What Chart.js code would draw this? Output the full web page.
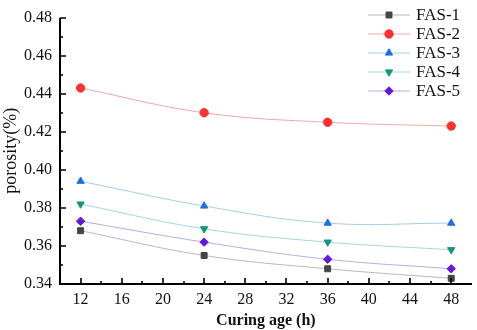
<!DOCTYPE html>
<html>
<head>
<meta charset="utf-8">
<script src="https://cdn.jsdelivr.net/npm/chart.js@4"></script>
<style>
  html, body { margin: 0; padding: 0; background: #fff; }
  #chart { display: block; }
</style>
</head>
<body>
<canvas id="chart" width="477" height="330"></canvas>
<script>
// data
const ages = [12, 24, 36, 48];
const fas1 = [0.368, 0.355, 0.348, 0.343];
const fas2 = [0.443, 0.430, 0.425, 0.423];
const fas3 = [0.394, 0.381, 0.372, 0.372];
const fas4 = [0.382, 0.369, 0.362, 0.358];
const fas5 = [0.373, 0.362, 0.353, 0.348];
const xTicks = [12, 16, 20, 24, 28, 32, 36, 40, 44, 48];
const yTicks = [0.34, 0.36, 0.38, 0.40, 0.42, 0.44, 0.46, 0.48];

const serif = '"Liberation Serif", "DejaVu Serif", serif';

function pts(vals) {
  return ages.map((a, i) => ({ x: a, y: vals[i] }));
}

function series(label, vals, line, mark, style, rot) {
  return {
    label: label,
    data: pts(vals),
    borderColor: line,
    borderWidth: 1,
    backgroundColor: mark,
    pointBackgroundColor: mark,
    pointBorderColor: mark,
    pointStyle: style,
    rotation: rot || 0,
    pointRadius: 4.2,
    tension: 0.4,
    fill: false
  };
}

// inside ticks + axis lines, like the origin plot
const insideTicks = {
  id: 'insideTicks',
  afterDraw(chart) {
    const ctx = chart.ctx;
    const xs = chart.scales.x, ys = chart.scales.y;
    const a = chart.chartArea;
    const L = Math.round(a.left), B = Math.round(a.bottom);
    ctx.save();
    ctx.strokeStyle = '#000';
    ctx.lineWidth = 2;
    ctx.beginPath();
    ctx.moveTo(L, Math.round(a.top));
    ctx.lineTo(L, B);
    ctx.lineTo(Math.round(a.right), B);
    ctx.stroke();
    ctx.lineWidth = 1.6;
    ctx.beginPath();
    for (let v = 12; v <= 48; v += 2) {
      const px = Math.round(xs.getPixelForValue(v));
      const len = (v % 4 === 0) ? 6 : 3;
      ctx.moveTo(px, B);
      ctx.lineTo(px, B - len);
    }
    for (let i = 0; i <= 14; i++) {
      const v = 0.34 + i * 0.01;
      const py = Math.round(ys.getPixelForValue(v));
      const len = (i % 2 === 0) ? 6 : 3;
      ctx.moveTo(L, py);
      ctx.lineTo(L + len, py);
    }
    ctx.stroke();
    ctx.restore();
  }
};

// legend box in the upper right corner
const sideLegend = {
  id: 'sideLegend',
  afterDatasetsDraw(chart) {
    const ctx = chart.ctx;
    const x0 = 368, x1 = 410, top = 15, step = 19;
    ctx.save();
    chart.data.datasets.forEach((ds, i) => {
      const y = top + i * step;
      ctx.strokeStyle = ds.borderColor;
      ctx.lineWidth = 1;
      ctx.beginPath();
      ctx.moveTo(x0, y);
      ctx.lineTo(x1, y);
      ctx.stroke();
      ctx.fillStyle = ds.pointBackgroundColor;
      ctx.strokeStyle = ds.pointBorderColor;
      Chart.helpers.drawPoint(ctx, {
        pointStyle: ds.pointStyle,
        rotation: ds.rotation,
        radius: 4.2,
        borderWidth: 1
      }, (x0 + x1) / 2, y);
      ctx.fillStyle = '#111';
      ctx.font = '17px ' + serif;
      ctx.textBaseline = 'middle';
      ctx.textAlign = 'left';
      ctx.fillText(ds.label, x1 + 6, y + 1);
    });
    ctx.restore();
  }
};

new Chart(document.getElementById('chart'), {
  type: 'line',
  data: {
    datasets: [
      series('FAS-1', fas1, '#b4b8cc', '#444448', 'rect'),
      series('FAS-2', fas2, '#f2a6a6', '#ff3030', 'circle'),
      series('FAS-3', fas3, '#a6cbe8', '#1a6fe6', 'triangle'),
      series('FAS-4', fas4, '#a8d6d4', '#12967a', 'triangle', 180),
      series('FAS-5', fas5, '#b4aee4', '#6a14e0', 'rectRot')
    ]
  },
  options: {
    responsive: false,
    animation: false,
    layout: { padding: { top: 8, right: 4, left: 0, bottom: 0 } },
    plugins: {
      legend: { display: false },
      tooltip: { enabled: false }
    },
    scales: {
      x: {
        type: 'linear',
        min: 10,
        max: 50,
        afterBuildTicks: (s) => { s.ticks = xTicks.map(v => ({ value: v })); },
        afterFit: (s) => { s.height = 46; },
        grid: { display: false, drawTicks: false },
        border: { display: false },
        ticks: {
          padding: 6,
          color: '#111',
          font: { family: serif, size: 16 }
        },
        title: {
          display: true,
          text: 'Curing age (h)',
          color: '#111',
          padding: { top: 2, bottom: 0 },
          font: { family: serif, size: 16, weight: 'bold' }
        }
      },
      y: {
        min: 0.34,
        max: 0.48,
        afterBuildTicks: (s) => { s.ticks = yTicks.map(v => ({ value: v })); },
        afterFit: (s) => { s.width = 60; },
        grid: { display: false, drawTicks: false },
        border: { display: false },
        ticks: {
          padding: 8,
          color: '#111',
          font: { family: serif, size: 16 },
          callback: (v) => Number(v).toFixed(2)
        },
        title: {
          display: true,
          text: 'porosity(%)',
          color: '#111',
          padding: { top: 0, bottom: 0 },
          font: { family: serif, size: 18 }
        }
      }
    }
  },
  plugins: [insideTicks, sideLegend]
});
</script>
</body>
</html>
